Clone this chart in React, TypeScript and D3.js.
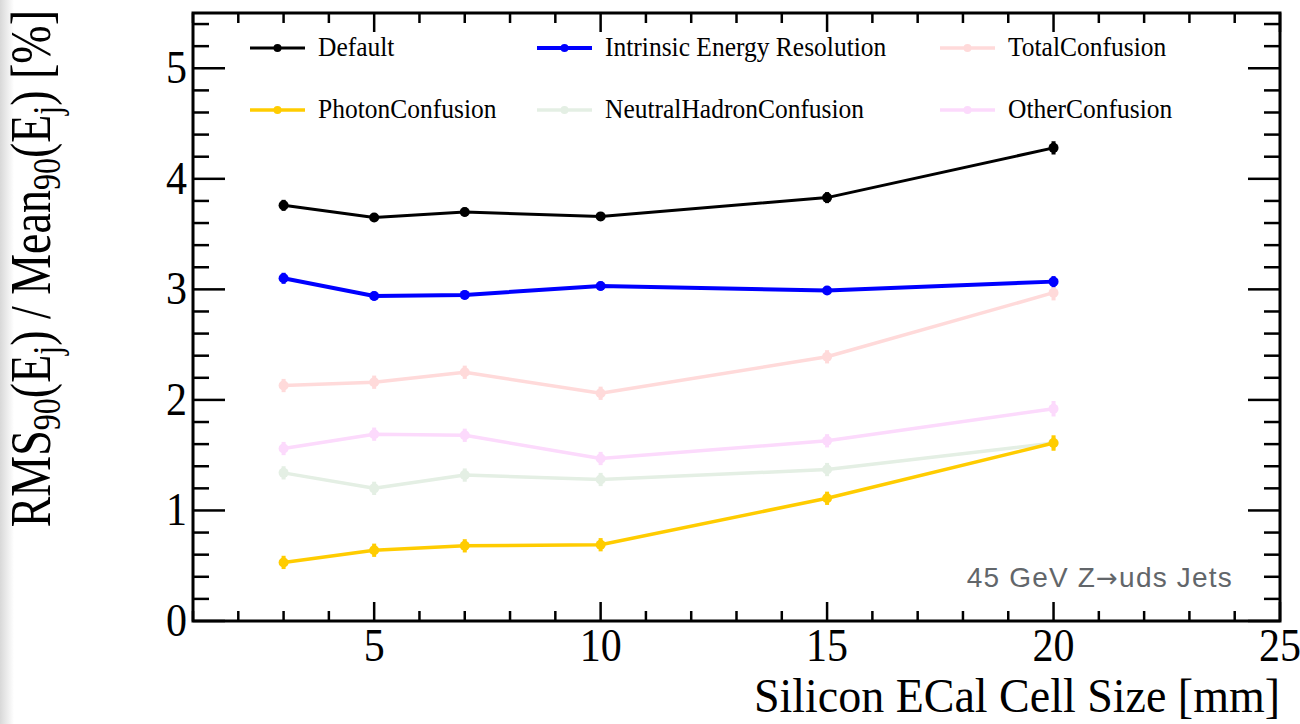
import React from 'react';
import * as d3 from 'd3';

const cellSizes = [3, 5, 7, 10, 15, 20];

const defaultVals = [3.76, 3.65, 3.70, 3.66, 3.83, 4.28];
const defaultErr = [0.05, 0.04, 0.04, 0.04, 0.05, 0.06];
const intrinsicVals = [3.10, 2.94, 2.95, 3.03, 2.99, 3.07];
const intrinsicErr = [0.05, 0.04, 0.04, 0.04, 0.04, 0.05];
const totalConfVals = [2.13, 2.16, 2.25, 2.06, 2.39, 2.97];
const totalConfErr = [0.06, 0.06, 0.06, 0.06, 0.06, 0.07];
const photonVals = [0.53, 0.64, 0.68, 0.69, 1.11, 1.61];
const photonErr = [0.06, 0.06, 0.06, 0.06, 0.06, 0.07];
const neutralVals = [1.34, 1.20, 1.32, 1.28, 1.37, 1.61];
const neutralErr = [0.06, 0.06, 0.06, 0.06, 0.06, 0.06];
const otherVals = [1.56, 1.69, 1.68, 1.47, 1.63, 1.92];
const otherErr = [0.06, 0.06, 0.06, 0.06, 0.06, 0.07];

const xTickLabels = [5, 10, 15, 20, 25];
const yTickLabels = [0, 1, 2, 3, 4, 5];

const series = [
  { name: 'Default', vals: defaultVals, err: defaultErr, color: '#000000', width: 3 },
  { name: 'Intrinsic Energy Resolution', vals: intrinsicVals, err: intrinsicErr, color: '#0000ff', width: 4 },
  { name: 'TotalConfusion', vals: totalConfVals, err: totalConfErr, color: '#ffdada', width: 3.5 },
  { name: 'PhotonConfusion', vals: photonVals, err: photonErr, color: '#ffcc00', width: 3.5 },
  { name: 'NeutralHadronConfusion', vals: neutralVals, err: neutralErr, color: '#e4efe4', width: 3.5 },
  { name: 'OtherConfusion', vals: otherVals, err: otherErr, color: '#fcdafc', width: 3.5 }
];

// draw order: light ones first, strong ones on top
const drawOrder = [2, 4, 5, 3, 1, 0];

const serif = '"Liberation Serif", "DejaVu Serif", serif';
const sans = '"Liberation Sans", Arial, sans-serif';

export default function App() {
  const margin = { top: 13, right: 20, bottom: 103, left: 193 };
  const svgWidth = 1300;
  const svgHeight = 724;
  const width = svgWidth - margin.left - margin.right;
  const height = svgHeight - margin.top - margin.bottom;

  const xScale = d3.scaleLinear().domain([1, 25]).range([0, width]);
  const yScale = d3.scaleLinear().domain([0, 5.5]).range([height, 0]);

  const line = d3.line<number>()
    .x((d, i) => xScale(cellSizes[i]))
    .y(d => yScale(d));

  const xMinor = d3.range(1, 25.01, 1);
  const yMinor = d3.range(0, 5.51, 0.2);

  // legend layout
  const legendCols = [57, 344, 747];
  const legendRows = [35, 97];

  return (
    <svg width={svgWidth} height={svgHeight} style={{ position: 'absolute', left: 0, top: 0, background: '#fff' }}>
      <defs>
        <linearGradient id="edge" x1="0" x2="1" y1="0" y2="0">
          <stop offset="0" stopColor="#d8d8d8" />
          <stop offset="1" stopColor="#ffffff" />
        </linearGradient>
      </defs>
      <rect x={0} y={0} width={14} height={svgHeight} fill="url(#edge)" />
      <g transform={`translate(${margin.left},${margin.top})`}>
        {/* series */}
        {drawOrder.map(si => {
          const s = series[si];
          return (
            <g key={s.name}>
              <path d={line(s.vals) || ''} fill="none" stroke={s.color} strokeWidth={s.width} strokeLinejoin="round" />
              {s.vals.map((v, i) => (
                <g key={i}>
                  <line x1={xScale(cellSizes[i])} x2={xScale(cellSizes[i])}
                    y1={yScale(v - s.err[i])} y2={yScale(v + s.err[i])}
                    stroke={s.color} strokeWidth={4} />
                  <circle cx={xScale(cellSizes[i])} cy={yScale(v)} r={5} fill={s.color} />
                </g>
              ))}
            </g>
          );
        })}

        {/* legend */}
        {series.map((s, i) => {
          const lx = legendCols[i % 3];
          const ly = legendRows[Math.floor(i / 3)];
          return (
            <g key={'leg' + s.name}>
              <line x1={lx} x2={lx + 55} y1={ly} y2={ly} stroke={s.color} strokeWidth={s.width} />
              <circle cx={lx + 27.5} cy={ly} r={4} fill={s.color} />
              <text transform={`translate(${lx + 68},${ly + 8}) scale(1,1.1)`} fontFamily={serif} fontSize={25.5} fill="#000">{s.name}</text>
            </g>
          );
        })}

        <text x={width - 47} y={574} textAnchor="end" fontFamily={sans} fontSize={28} letterSpacing={1.2} fill="#62666a">
          45 GeV Z<tspan fontFamily='"DejaVu Sans", sans-serif' fontSize={26}>→</tspan>uds Jets
        </text>

        {/* ticks */}
        {xMinor.map(v => {
          const major = v % 5 === 0;
          const len = major ? 19 : 10;
          return (
            <g key={'xt' + v}>
              <line x1={xScale(v)} x2={xScale(v)} y1={height} y2={height - len} stroke="#000" strokeWidth={2.5} />
              <line x1={xScale(v)} x2={xScale(v)} y1={0} y2={len} stroke="#000" strokeWidth={2.5} />
            </g>
          );
        })}
        {yMinor.map((v, i) => {
          const major = i % 5 === 0;
          const len = major ? 32 : 16;
          return (
            <g key={'yt' + i}>
              <line x1={0} x2={len} y1={yScale(v)} y2={yScale(v)} stroke="#000" strokeWidth={2.5} />
              <line x1={width} x2={width - len} y1={yScale(v)} y2={yScale(v)} stroke="#000" strokeWidth={2.5} />
            </g>
          );
        })}
        <rect x={0} y={0} width={width} height={height} fill="none" stroke="#000" strokeWidth={3} />

        {/* tick labels */}
        {xTickLabels.map(v => (
          <text key={'xl' + v} transform={`translate(${xScale(v)},${height + 40}) scale(1,1.08)`} textAnchor="middle" fontFamily={serif} fontSize={42} fill="#000">{v}</text>
        ))}
        {yTickLabels.map(v => (
          <text key={'yl' + v} transform={`translate(-6,${yScale(v) + 15}) scale(1,1.08)`} textAnchor="end" fontFamily={serif} fontSize={42} fill="#000">{v}</text>
        ))}

        {/* axis titles */}
        <text transform={`translate(${width},${height + 91}) scale(1,1.04)`} textAnchor="end" fontFamily={serif} fontSize={46} fill="#000">Silicon ECal Cell Size [mm]</text>
        <text transform={`translate(${-143},${-3}) rotate(-90) scale(1,1.22)`} textAnchor="end" fontFamily={serif} fontSize={46} fill="#000">
          RMS<tspan fontSize={32} dy={8}>90</tspan><tspan dy={-8}>(E</tspan><tspan fontSize={32} dy={8}>j</tspan><tspan dy={-8}>) / Mean</tspan><tspan fontSize={32} dy={8}>90</tspan><tspan dy={-8}>(E</tspan><tspan fontSize={32} dy={8}>j</tspan><tspan dy={-8}>) [%]</tspan>
        </text>
      </g>
    </svg>
  );
}
